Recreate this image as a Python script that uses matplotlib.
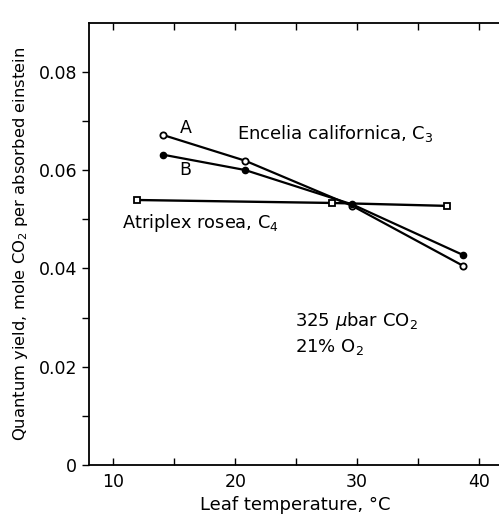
import matplotlib

matplotlib.use("Agg")
import matplotlib.pyplot as plt

# Encelia californica (C3), curve A (open circles) and B (filled circles)
temp_a = [14.1, 20.8, 29.6, 38.7]
yield_a = [0.0671, 0.0619, 0.0527, 0.0405]
temp_b = [14.1, 20.8, 29.6, 38.7]
yield_b = [0.0631, 0.0600, 0.0530, 0.0427]
# Atriplex rosea (C4), open squares
temp_c4 = [11.9, 27.9, 37.4]
yield_c4 = [0.0539, 0.0533, 0.0527]

xticks = [10, 20, 30, 40]
yticks = [0, 0.02, 0.04, 0.06, 0.08]
ytick_labels = ["0", "0.02", "0.04", "0.06", "0.08"]

fig = plt.figure(figsize=(4.99, 5.18), dpi=100)
ax = fig.add_axes([0.1784, 0.1023, 0.8256, 0.8533])

ax.plot(temp_c4, yield_c4, color="black", lw=1.7, marker="s", ms=4.5,
        mfc="white", mec="black", mew=1.3)
ax.plot(temp_a, yield_a, color="black", lw=1.6, marker="o", ms=4.5,
        mfc="white", mec="black", mew=1.3)
ax.plot(temp_b, yield_b, color="black", lw=1.6, marker="o", ms=4.5,
        mfc="black", mec="black")

ax.set_xlim(8.0, 41.8)
ax.set_ylim(0, 0.0899)
ax.set_xticks(xticks)
ax.set_xticklabels([str(t) for t in xticks], fontsize=12.5)
ax.set_xticks([15, 25, 35], minor=True)
ax.set_yticks(yticks)
ax.set_yticklabels(ytick_labels, fontsize=12.5)
ax.set_yticks([0.01, 0.03, 0.05, 0.07], minor=True)
ax.tick_params(axis="x", which="both", direction="in", top=True, length=5, width=1)
ax.tick_params(axis="y", which="both", direction="out", length=5, width=1)
ax.tick_params(axis="x", pad=6)
for s in ax.spines.values():
    s.set_linewidth(1.3)
ax.spines["right"].set_visible(False)

ax.set_xlabel("Leaf temperature, °C", fontsize=13, labelpad=3)
ax.set_ylabel("Quantum yield, mole CO$_2$ per absorbed einstein", fontsize=11.8, labelpad=6)

ax.text(15.9, 0.0686, "A", fontsize=12.5, ha="center", va="center")
ax.text(15.9, 0.0601, "B", fontsize=12.5, ha="center", va="center")
ax.text(20.1, 0.0675, "Encelia californica, C$_3$", fontsize=13, va="center")
ax.text(10.7, 0.0492, "Atriplex rosea, C$_4$", fontsize=12.8, va="center")
ax.text(24.9, 0.0293, "325 $\\mu$bar CO$_2$", fontsize=13, va="center")
ax.text(24.9, 0.0240, "21% O$_2$", fontsize=13, va="center")

fig.savefig("out.png", dpi=100)
